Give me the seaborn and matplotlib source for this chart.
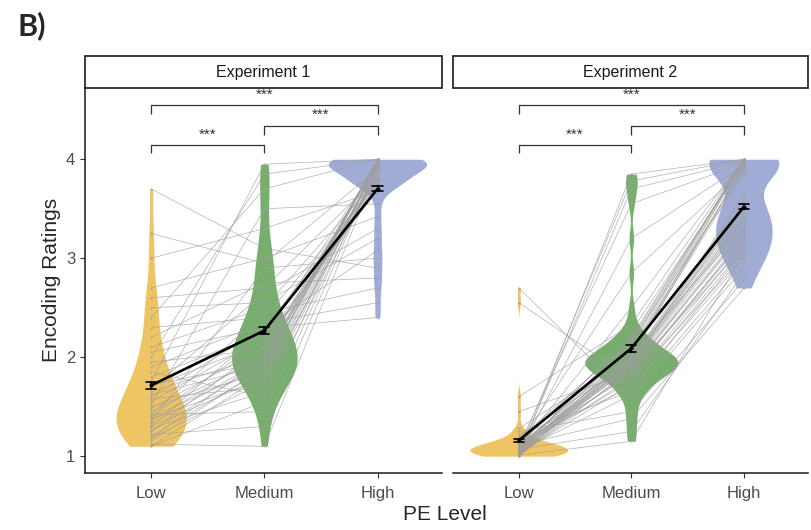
import numpy as np
import pandas as pd
import matplotlib
matplotlib.use("Agg")
import matplotlib.pyplot as plt
from matplotlib.patches import Rectangle
import seaborn as sns

# ---------------------------------------------------------------------------
# data (one entry per participant)
levels = ["Low", "Medium", "High"]
experiments = ["Experiment 1", "Experiment 2"]

exp1_low = [1.10, 1.10, 1.12, 1.15, 1.18, 1.18, 1.20, 1.22, 1.25, 1.25,
            1.28, 1.30, 1.30, 1.32, 1.35, 1.35, 1.38, 1.40, 1.40, 1.42,
            1.42, 1.45, 1.48, 1.50, 1.52, 1.55, 1.58, 1.60, 1.62, 1.65,
            1.68, 1.70, 1.72, 1.75, 1.80, 1.85, 1.90, 1.95, 2.00, 2.05,
            2.10, 2.20, 2.30, 2.40, 2.50, 2.60, 2.70, 3.00, 3.25, 3.70]
exp1_medium = [1.55, 1.82, 1.10, 1.90, 1.75, 2.00, 1.88, 1.30, 2.12, 1.95,
               1.65, 2.28, 1.80, 1.98, 2.90, 2.05, 1.78, 2.18, 1.90, 2.45,
               1.45, 2.00, 2.10, 1.85, 3.50, 2.20, 1.70, 2.30, 1.92, 2.02,
               2.65, 2.15, 1.95, 3.95, 2.25, 1.60, 2.35, 2.08, 3.85, 2.30,
               2.50, 2.75, 2.40, 3.70, 2.55, 2.70, 3.00, 3.30, 2.95, 3.10]
exp1_high = [4.00, 3.96, 3.90, 4.00, 3.88, 3.98, 4.00, 3.94, 3.75, 4.00,
             3.96, 3.80, 3.92, 4.00, 3.00, 3.98, 3.85, 3.72, 4.00, 2.70,
             3.94, 3.82, 3.78, 4.00, 3.55, 3.96, 3.98, 2.40, 3.92, 3.85,
             3.30, 3.70, 4.00, 4.00, 3.78, 3.88, 2.55, 3.94, 4.00, 3.08,
             3.80, 2.80, 3.75, 4.00, 3.20, 3.82, 3.42, 3.68, 3.90, 2.90]

exp2_low = [1.00, 1.00, 1.00, 1.00, 1.01, 1.01, 1.01, 1.02, 1.02, 1.02,
            1.03, 1.03, 1.03, 1.04, 1.04, 1.04, 1.05, 1.05, 1.05, 1.06,
            1.06, 1.06, 1.07, 1.07, 1.07, 1.08, 1.08, 1.08, 1.09, 1.09,
            1.09, 1.10, 1.10, 1.10, 1.11, 1.11, 1.12, 1.12, 1.13, 1.14,
            1.15, 1.18, 1.20, 1.22, 1.25, 1.28, 1.45, 1.60, 2.55, 2.70]
exp2_medium = [2.01, 1.95, 3.85, 1.88, 2.07, 1.15, 1.97, 3.70, 1.80, 2.12,
               1.92, 2.26, 1.73, 3.20, 1.99, 1.86, 2.03, 1.62, 2.18, 1.94,
               3.78, 1.90, 1.25, 2.00, 1.84, 2.50, 1.96, 2.15, 1.76, 2.09,
               1.93, 3.55, 1.89, 2.05, 1.38, 1.98, 2.85, 1.82, 2.20, 1.91,
               1.70, 2.16, 1.95, 1.66, 1.45, 2.02, 1.85, 2.33, 1.78, 1.58]
exp2_high = [4.00, 3.45, 4.00, 3.30, 3.92, 3.05, 3.52, 3.98, 3.22, 4.00,
             3.38, 3.96, 3.10, 3.94, 3.60, 3.28, 3.88, 2.95, 4.00, 3.40,
             4.00, 3.35, 2.85, 3.94, 3.20, 4.00, 3.48, 4.00, 3.15, 3.98,
             3.42, 3.96, 3.25, 3.92, 2.70, 3.55, 3.90, 3.18, 4.00, 3.65,
             3.00, 3.86, 3.51, 3.08, 2.78, 3.32, 3.12, 4.00, 3.02, 2.90]

palette = {"Low": "#EFC462", "Medium": "#76AF6C", "High": "#A0ACD6"}
# maximum violin width (in category units) of each level, per experiment
violin_widths = {"Experiment 1": [0.62, 0.58, 0.87],
                 "Experiment 2": [0.87, 0.83, 0.62]}

# ---------------------------------------------------------------------------
rows = []
for exp, cols in zip(experiments, [(exp1_low, exp1_medium, exp1_high),
                                   (exp2_low, exp2_medium, exp2_high)]):
    for lvl, vals in zip(levels, cols):
        for subj, v in enumerate(vals):
            rows.append({"exp": exp, "subject": subj, "level": lvl, "rating": v})
df = pd.DataFrame(rows)
df["pos"] = df["level"].map({l: i for i, l in enumerate(levels)})


def nrd0(kde):
    # R's default violin bandwidth (bw.nrd0), with a small floor
    x = kde.dataset[0]
    sd = x.std(ddof=1)
    iqr = np.subtract(*np.percentile(x, [75, 25]))
    lo = min(sd, iqr / 1.34) if iqr > 0 else sd
    bw = max(0.9 * lo * len(x) ** -0.2, 0.06)
    return bw / sd


sns.set_style("white")
plt.rcParams["font.family"] = ["Liberation Sans", "DejaVu Sans"]

fig = plt.figure(figsize=(8.11, 5.30), dpi=100)
ax1 = fig.add_axes([85 / 811, 57 / 530, 357 / 811, 385 / 530])
ax2 = fig.add_axes([453 / 811, 57 / 530, 355 / 811, 385 / 530], sharey=ax1)

brackets = [(0, 1, 4.14, 4.06, 4.25), (1, 2, 4.34, 4.25, 4.45), (0, 2, 4.55, 4.46, 4.65)]

for ax, exp in zip([ax1, ax2], experiments):
    d = df[df["exp"] == exp]
    for lvl, w in zip(levels, violin_widths[exp]):
        sns.violinplot(data=d[d["level"] == lvl], x="level", y="rating",
                       hue="level", order=levels, hue_order=levels,
                       palette=palette, inner=None, cut=0, linewidth=0,
                       saturation=1, density_norm="width", width=w,
                       bw_method=nrd0, legend=False, ax=ax)
    sns.lineplot(data=d, x="pos", y="rating", units="subject", estimator=None,
                 color="#9e9e9e", linewidth=0.5, alpha=0.8, marker="o",
                 markersize=1.5, markeredgewidth=0, ax=ax)
    sns.pointplot(data=d, x="level", y="rating", order=levels,
                  errorbar=("se", 0.4), color="black", markers="o",
                  markersize=1.5, linewidth=1.9, capsize=0.09,
                  err_kws={"linewidth": 1.2}, ax=ax)

    for x0, x1, ytop, ybot, ytxt in brackets:
        ax.plot([x0, x0, x1, x1], [ybot, ytop, ytop, ybot], color="#333333",
                lw=0.9, solid_capstyle="butt")
        ax.text((x0 + x1) / 2, ytxt, "***", ha="center", va="center",
                fontsize=11, color="#333333")

    ax.set_xlim(-0.585, 2.57)
    ax.set_ylim(0.83, 4.72)
    ax.set_xlabel("")
    ax.set_ylabel("")
    ax.set_xticks(range(3))
    ax.set_xticklabels(levels, fontsize=12, color="#4D4D4D")
    for s in ["top", "right"]:
        ax.spines[s].set_visible(False)
    ax.spines["bottom"].set_color("#1a1a1a")
    ax.spines["bottom"].set_linewidth(1.1)
    ax.tick_params(axis="x", length=3.5, width=0.8, color="#333333", pad=6,
                   bottom=True)

    # facet strip
    ax.add_patch(Rectangle((0, 1.0), 1, 32 / 385, transform=ax.transAxes,
                           facecolor="white", edgecolor="#1a1a1a", lw=1.2,
                           clip_on=False, zorder=0.5))
    ax.text(0.5, 1.0 + 16 / 385, exp, transform=ax.transAxes, ha="center",
            va="center", fontsize=11.5, color="#1a1a1a")

ax1.set_yticks([1, 2, 3, 4])
ax1.set_yticklabels(["1", "2", "3", "4"], fontsize=12, color="#4D4D4D")
ax1.tick_params(axis="y", length=3.5, width=0.8, color="#333333", left=True)
ax1.spines["left"].set_color("#1a1a1a")
ax1.spines["left"].set_linewidth(1.1)
ax2.spines["left"].set_visible(False)
ax2.tick_params(axis="y", left=False, labelleft=False)

fig.text(52 / 811, 1 - 280 / 530, "Encoding Ratings", rotation=90,
         ha="center", va="center", fontsize=15)
fig.text(445 / 811, 1 - 514 / 530, "PE Level", ha="center", va="center",
         fontsize=15)
fig.text(17 / 811, 1 - 11 / 530, "B)", ha="left", va="top", fontsize=22,
         fontweight="bold", family=["Lato", "DejaVu Sans"])

fig.savefig("out.png", dpi=100)
